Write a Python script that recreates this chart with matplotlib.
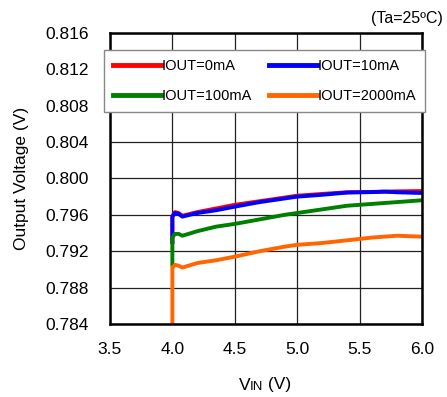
import matplotlib.pyplot as plt
from matplotlib.offsetbox import TextArea, HPacker, AnnotationBbox

plt.rcParams['font.family'] = ['Liberation Sans', 'DejaVu Sans']

vin = [4.0, 4.0, 4.02, 4.05, 4.08, 4.2, 4.35, 4.5, 4.7, 4.9, 5.0, 5.2, 5.4, 5.6, 5.7, 5.8, 6.0]
v_0ma = [0.7930, 0.7958, 0.7963, 0.7962, 0.7959, 0.7963, 0.7967, 0.7971, 0.7975, 0.7979, 0.7981, 0.7983,
         0.79848, 0.79852, 0.79855, 0.79858, 0.79862]
v_10ma = [0.7930, 0.7958, 0.7962, 0.7961, 0.7958, 0.7962, 0.7965, 0.7969, 0.7974, 0.7978, 0.7980, 0.7982,
          0.79845, 0.79850, 0.79855, 0.79848, 0.79840]
v_100ma = [0.7905, 0.7935, 0.7939, 0.7939, 0.7937, 0.7942, 0.7947, 0.7950, 0.7955, 0.7960, 0.7962, 0.7966,
           0.7970, 0.7972, 0.7973, 0.7974, 0.7976]
v_2000ma = [0.7830, 0.7902, 0.7905, 0.7904, 0.7902, 0.7907, 0.7910, 0.7914, 0.7920, 0.7925, 0.7927, 0.7929,
            0.7932, 0.7935, 0.7936, 0.7937, 0.7936]

series = [('IOUT=0mA', v_0ma, '#ff0000'),
          ('IOUT=10mA', v_10ma, '#0000ff'),
          ('IOUT=100mA', v_100ma, '#008000'),
          ('IOUT=2000mA', v_2000ma, '#ff6600')]

xticks = [3.5, 4.0, 4.5, 5.0, 5.5, 6.0]
yticks = [0.784, 0.788, 0.792, 0.796, 0.800, 0.804, 0.808, 0.812, 0.816]

fig = plt.figure(figsize=(4.47, 3.97), dpi=100)
ax = fig.add_axes([0.246, 0.184, 0.698, 0.733])

lines = []
for label, v, c in series:
    ln, = ax.plot(vin, v, color=c, lw=2.8, label=label, solid_joinstyle='round')
    lines.append(ln)

ax.set_xlim(3.5, 6.0)
ax.set_ylim(0.784, 0.816)
ax.set_xticks(xticks)
ax.set_yticks(yticks)
ax.set_xticklabels([f'{t:.1f}' for t in xticks])
ax.set_yticklabels([f'{t:.3f}' for t in yticks])
ax.tick_params(length=0, labelsize=12.5)
ax.tick_params(axis='y', pad=15)
ax.tick_params(axis='x', pad=13)
ax.grid(True, color='#222222', lw=0.9)
ax.set_axisbelow(True)
for s in ax.spines.values():
    s.set_linewidth(1.8)

ax.set_ylabel('Output Voltage (V)', fontsize=12.5, labelpad=12)

# row-wise legend order: 0mA, 10mA / 100mA, 2000mA
order = [0, 2, 1, 3]
leg = ax.legend([lines[i] for i in order], [series[i][0] for i in order],
                loc='upper left', bbox_to_anchor=(-0.019, 0.725, 1.03, 0.2165), mode='expand', ncol=2,
                fontsize=10.5, frameon=True, fancybox=False, edgecolor='#888888', framealpha=1,
                handlelength=3.3, handletextpad=0.05, borderaxespad=0, labelspacing=1.1,
                columnspacing=1.0, borderpad=0.6)
leg.get_frame().set_linewidth(1.0)
for h in leg.get_lines():
    h.set_linewidth(3.5)

# x label with small-caps "IN"
xl = HPacker(children=[TextArea('V', textprops=dict(fontsize=12.5)),
                       TextArea('IN', textprops=dict(fontsize=9.5)),
                       TextArea(' (V)', textprops=dict(fontsize=12.5))],
             align='baseline', pad=0, sep=0)
ab = AnnotationBbox(xl, (265 / 447, 1 - 385 / 397), xycoords='figure fraction', frameon=False,
                    box_alignment=(0.5, 0.5))
fig.add_artist(ab)

fig.text(0.99, 1 - 18 / 397, '(Ta=25ºC)', ha='right', va='center', fontsize=11.5)

fig.savefig('out.png', dpi=100)
